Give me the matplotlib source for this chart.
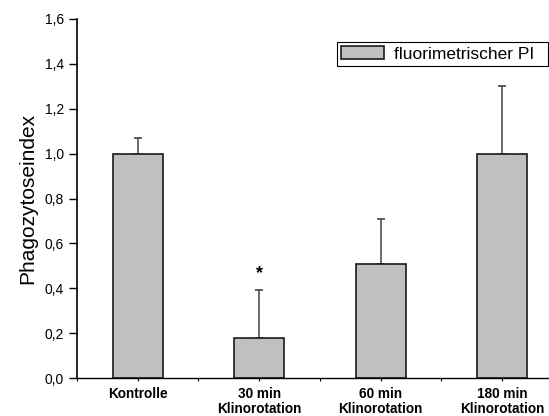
import matplotlib
matplotlib.use("Agg")
from matplotlib import pyplot as plt
from matplotlib.legend_handler import HandlerPatch
from matplotlib.patches import Rectangle
import numpy as np

plt.rcParams['font.family'] = ['Liberation Sans', 'DejaVu Sans']

categories = ["Kontrolle", "30 min\nKlinorotation", "60 min\nKlinorotation", "180 min\nKlinorotation"]
pi_values = [1.0, 0.18, 0.51, 1.0]
pi_errors = [0.07, 0.21, 0.20, 0.30]
y_ticks = [0.0, 0.2, 0.4, 0.6, 0.8, 1.0, 1.2, 1.4, 1.6]

fig = plt.figure(figsize=(5.49, 4.16), dpi=100)
ax = fig.add_axes([77/549, 38/416, 486/549, 359/416])

x = np.arange(1, len(categories) + 1)
bars = ax.bar(x, pi_values, width=0.41, color='#c0c0c0', edgecolor='#1a1a1a',
              linewidth=1.2, label='fluorimetrischer PI  ', zorder=2)
ax.errorbar(x, pi_values, yerr=[np.zeros(len(x)), pi_errors], fmt='none',
            ecolor='#444444', elinewidth=1.1, capsize=3, capthick=1.2, zorder=1)

# Signifikanz
ax.text(x[1], pi_values[1] + pi_errors[1] + 0.075, '*', ha='center', va='center',
        fontsize=13, fontweight='bold')

ax.set_xlim(0.5, 4.5)
ax.set_ylim(0, 1.6)
ax.set_yticks(y_ticks)
ax.set_yticklabels([f"{t:.1f}".replace('.', ',') for t in y_ticks], fontsize=10)
ax.set_xticks(x)
ax.set_xticklabels(categories, fontsize=9.8, fontweight='bold', linespacing=1.1)
ax.set_xticks(np.arange(0.5, 4.6, 0.5), minor=True)
ax.tick_params(axis='x', which='both', direction='out', length=2.2, width=0.8, pad=4)
ax.tick_params(axis='y', direction='out', length=6, width=1.0, pad=3.5)
ax.set_ylabel('Phagozytoseindex', fontsize=15, labelpad=5)

for s in ['top', 'right']:
    ax.spines[s].set_visible(False)
ax.spines['left'].set_linewidth(1.2)
ax.spines['bottom'].set_linewidth(1.0)

leg = ax.legend(handles=[bars], loc='upper right', bbox_to_anchor=(471/486, 0.936),
                fontsize=12.5, frameon=True, fancybox=False, edgecolor='black',
                framealpha=1, handlelength=2.45, handleheight=0.72, borderpad=0.25,
                handletextpad=0.57, borderaxespad=0,
                handler_map={type(bars[0]): HandlerPatch(xpad=0.5)})
leg.get_frame().set_linewidth(0.8)

fig.savefig('out.png', dpi=100)
